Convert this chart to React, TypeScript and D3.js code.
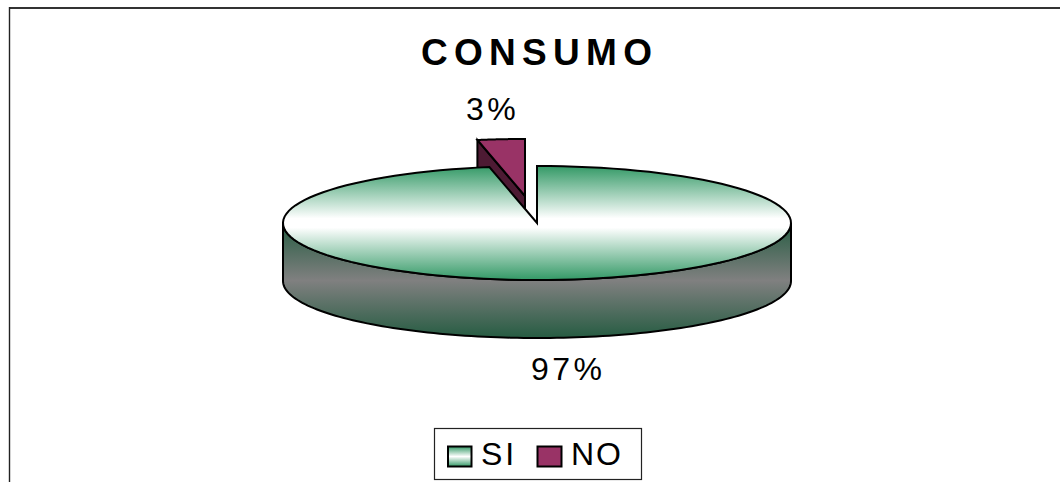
import React from "react";
import * as d3 from "d3";

const categories = ["SI", "NO"];
const shares = [97, 3];
const shareLabels = ["97%", "3%"];
const title = "CONSUMO";

const cx = 537;
const cy = 223;
const rx = 254;
const ry = 57;
const depth = 58;
const explode: [number, number] = [-12, -27];

const green = "#339966";
const purple = "#993366";
const darkPurple = "#4d1a33";
const font = "'Liberation Sans', Arial, sans-serif";

type Pt = [number, number];

// Tilted-pie projection: angle runs clockwise from twelve o'clock.
const project = (a: number, ox = 0, oy = 0): Pt => [
  cx + ox + rx * Math.sin(a),
  cy + oy - ry * Math.cos(a),
];
const arcPts = (a0: number, a1: number, ox = 0, oy = 0): Pt[] =>
  d3.range(0, 121).map((i) => project(a0 + ((a1 - a0) * i) / 120, ox, oy));

const line = d3.line<Pt>();
const closed = (pts: Pt[]) => line(pts) + "Z";

export default function App() {
  const slices = d3
    .pie<number>()
    .sort(null)
    .value((d) => d)(shares);
  const si = slices[0];
  const no = slices[1];
  const [ex, ey] = explode;

  const siTop = closed([[cx, cy], ...arcPts(si.startAngle, si.endAngle)]);
  const frontLo = Math.PI / 2;
  const frontHi = (3 * Math.PI) / 2;
  const siSide = closed([
    ...arcPts(frontLo, frontHi),
    ...arcPts(frontHi, frontLo, 0, depth),
  ]);

  const noApex: Pt = [cx + ex, cy + ey];
  const noTop = closed([noApex, ...arcPts(no.startAngle, no.endAngle, ex, ey)]);
  const noEdge = project(no.startAngle, ex, ey);
  const noWall = closed([
    noEdge,
    noApex,
    [noApex[0], noApex[1] + depth],
    [noEdge[0], noEdge[1] + depth],
  ]);

  return (
    <svg
      width={1060}
      height={482}
      style={{ position: "absolute", left: 0, top: 0 }}
      fontFamily={font}
    >
      <defs>
        <linearGradient id="topFill" gradientUnits="userSpaceOnUse" x1={0} x2={0} y1={cy - ry} y2={cy + ry}>
          <stop offset="0" stopColor={green} />
          <stop offset="0.46" stopColor="#ffffff" />
          <stop offset="0.54" stopColor="#ffffff" />
          <stop offset="1" stopColor={green} />
        </linearGradient>
        <linearGradient id="sideFill" gradientUnits="userSpaceOnUse" x1={0} x2={0} y1={cy} y2={cy + ry + depth}>
          <stop offset="0" stopColor="#265c42" />
          <stop offset="0.5" stopColor="#808080" />
          <stop offset="1" stopColor="#265c42" />
        </linearGradient>
        <linearGradient id="keyFill" x1={0} x2={0} y1={0} y2={1}>
          <stop offset="0" stopColor={green} />
          <stop offset="0.5" stopColor="#ffffff" />
          <stop offset="1" stopColor={green} />
        </linearGradient>
      </defs>

      <rect width={1060} height={482} fill="#fff" />
      <path d="M9,8H1060" fill="none" stroke="#333" strokeWidth={2} />
      <path d="M9.5,7V482" fill="none" stroke="#222" strokeWidth={1.4} />

      <text x={421} y={65} fontSize={37} fontWeight="bold" letterSpacing={6.3}>
        {title}
      </text>

      <g stroke="#000" strokeWidth={2} strokeLinejoin="miter">
        <path d={noWall} fill={darkPurple} />
        <path d={noTop} fill={purple} />
        <path d={siSide} fill="url(#sideFill)" />
        <path d={siTop} fill="url(#topFill)" />
      </g>

      <text x={466} y={120} fontSize={32} letterSpacing={3.5}>
        {shareLabels[1]}
      </text>
      <text x={531} y={380} fontSize={32} letterSpacing={3.5}>
        {shareLabels[0]}
      </text>

      <rect x={434.5} y={428.5} width={207} height={51} fill="#fff" stroke="#222" strokeWidth={1.2} />
      <rect x={448} y={446.5} width={23.5} height={20} fill="url(#keyFill)" stroke="#000" strokeWidth={2} />
      <text x={481} y={465} fontSize={32} letterSpacing={3}>
        {categories[0]}
      </text>
      <rect x={537.5} y={446.5} width={24} height={20} fill={purple} stroke="#000" strokeWidth={2} />
      <text x={571} y={465} fontSize={32} letterSpacing={2}>
        {categories[1]}
      </text>
    </svg>
  );
}
